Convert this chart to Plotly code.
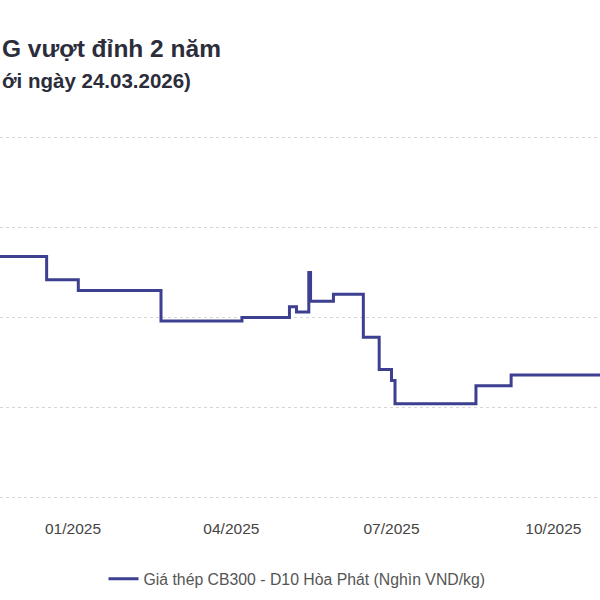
import plotly.graph_objects as go

# Step-wise price series (thousand VND/kg)
dates = [
    "2024-11-01", "2024-12-17", "2025-01-04", "2025-02-20", "2025-04-07",
    "2025-05-04", "2025-05-08", "2025-05-15", "2025-05-16", "2025-05-29",
    "2025-06-15", "2025-06-24", "2025-07-01", "2025-07-03", "2025-08-18",
    "2025-09-07", "2025-11-15",
]
prices = [
    14.34, 14.21, 14.15, 13.98, 14.00,
    14.06, 14.03, 14.25, 14.09, 14.13,
    13.89, 13.71, 13.65, 13.52, 13.62,
    13.68, 13.68,
]
series_name = "Giá thép CB300 - D10 Hòa Phát (Nghìn VND/kg)"
# visible (cropped) parts of the title and subtitle
title_text = "G vượt đỉnh 2 năm"
subtitle_text = "ới ngày 24.03.2026)"
tick_vals = ["2025-01-01", "2025-04-01", "2025-07-01", "2025-10-01"]
tick_text = ["01/2025", "04/2025", "07/2025", "10/2025"]

font_family = "Liberation Sans, Arial, sans-serif"

fig = go.Figure()
fig.add_trace(go.Scatter(
    x=dates, y=prices, mode="lines", name=series_name,
    line=dict(color="#3d3f91", width=3, shape="hv"),
    hoverinfo="skip",
))

TOP, BOT = 136, 101
PLOT_H = 600 - TOP - BOT

def py_to_paper(py):
    return (600 - BOT - py) / PLOT_H

fig.update_layout(
    width=600, height=600,
    margin=dict(l=0, r=0, t=TOP, b=BOT, autoexpand=False),
    paper_bgcolor="white", plot_bgcolor="white",
    showlegend=True,
    legend=dict(
        orientation="h", xref="container", yref="container",
        x=0.495, xanchor="center",
        y=1 - 579 / 600, yanchor="middle",
        font=dict(family=font_family, size=15.8, color="#555555"),
    ),
    xaxis=dict(
        type="date",
        range=["2024-11-20 12:00", "2025-10-27 12:00"],
        tickvals=tick_vals, ticktext=tick_text,
        showgrid=False, zeroline=False, showline=False,
        ticks="", ticklabelstandoff=18, automargin=False,
        tickfont=dict(family=font_family, size=15.5, color="#444444"),
        fixedrange=True,
    ),
    yaxis=dict(
        range=[12.99, 15.01], tick0=13.0, dtick=0.5,
        showgrid=True, gridcolor="#d6d6d6", gridwidth=1, griddash="dot",
        zeroline=False, showline=False, showticklabels=False,
        automargin=False, fixedrange=True,
    ),
    annotations=[
        dict(
            text="<b>" + title_text + "</b>", xref="paper", yref="paper",
            x=0, y=py_to_paper(48), xanchor="left", yanchor="middle",
            showarrow=False,
            font=dict(family=font_family, size=24.5, color="#2b2d3a"),
        ),
        dict(
            text="<b>" + subtitle_text + "</b>", xref="paper", yref="paper",
            x=0, y=py_to_paper(80), xanchor="left", yanchor="middle",
            showarrow=False,
            font=dict(family=font_family, size=20.5, color="#2b2d3a"),
        ),
    ],
)

fig.write_html(
    "out.html",
    config={"displayModeBar": False, "staticPlot": True},
    post_script="document.body.style.margin='0';document.body.style.overflow='hidden';",
)
